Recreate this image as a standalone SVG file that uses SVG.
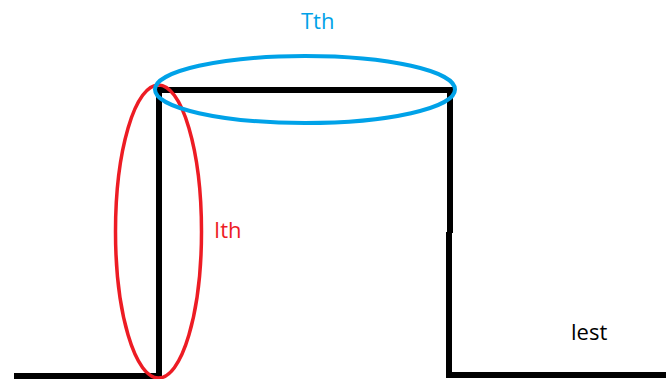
<svg xmlns="http://www.w3.org/2000/svg" width="666" height="379" viewBox="0 0 666 379">
<style>
.wave{fill:none;stroke:#000;stroke-width:6;stroke-linejoin:miter;stroke-linecap:butt}
.lbl{font-family:"Open Sans","Liberation Sans",sans-serif;font-size:22px}
</style>
<rect width="666" height="379" fill="#fff"/>
<g id="waveform">
<path class="wave" d="M14,376 H159 V90 H450 V233"/>
<path class="wave" d="M449,232 V375 H666"/>
</g>
<g id="ith-ellipse">
<ellipse cx="158.5" cy="231.5" rx="43" ry="146.5" fill="none" stroke="#ed1c24" stroke-width="3.5"/>
<text class="lbl" x="214" y="238" fill="#ed1c24">Ith</text>
</g>
<g id="tth-ellipse">
<ellipse cx="305" cy="89.5" rx="150" ry="33.5" fill="none" stroke="#00a2e8" stroke-width="4"/>
<text class="lbl" x="301" y="29" fill="#00a2e8">Tth</text>
</g>
<g id="lest-label">
<text class="lbl" x="571" y="340" fill="#000">lest</text>
</g>
</svg>
